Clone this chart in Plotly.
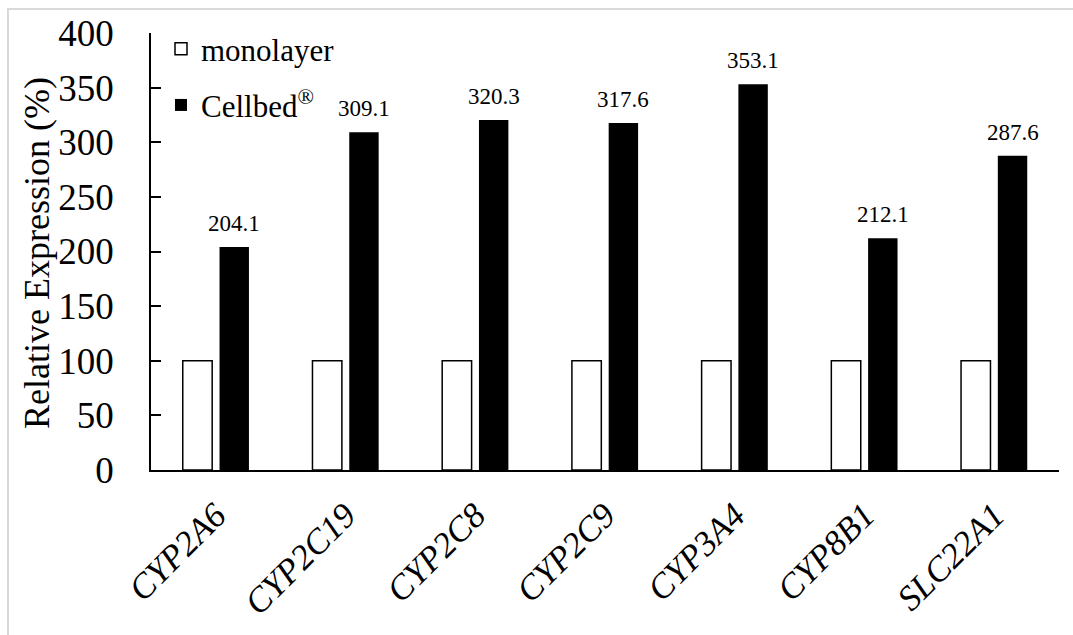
import plotly.graph_objects as go

categories = ["CYP2A6", "CYP2C19", "CYP2C8", "CYP2C9", "CYP3A4", "CYP8B1", "SLC22A1"]
monolayer = [100, 100, 100, 100, 100, 100, 100]
cellbed = [204.1, 309.1, 320.3, 317.6, 353.1, 212.1, 287.6]
y_ticks = [0, 50, 100, 150, 200, 250, 300, 350, 400]
y_title = "Relative Expression (%)"

FONT = "Liberation Serif"

fig = go.Figure()
fig.add_trace(go.Bar(
    x=categories, y=monolayer, name="monolayer", legendgroup="a",
    marker=dict(color="white", line=dict(color="black", width=1.5)),
))
fig.add_trace(go.Bar(
    x=categories, y=cellbed, name="Cellbed<sup>®</sup>", legendgroup="b",
    marker=dict(color="black", line=dict(color="black", width=0)),
))

for c, v in zip(categories, cellbed):
    fig.add_annotation(
        x=c, y=v, text=f"{v:.1f}", showarrow=False,
        xref="x", yref="y", xanchor="center", yanchor="bottom",
        xshift=18.4, yshift=9,
        font=dict(family=FONT, size=23, color="black"),
    )

W, H = 1073, 635
L, R, T, B = 151, 14, 33, 165
pw, ph = W - L - R, H - T - B

def px(xp):
    return (xp - L) / pw

def py(yp):
    return (H - B - yp) / ph

fig.add_annotation(
    x=px(37), y=py(253), xref="paper", yref="paper",
    xanchor="center", yanchor="middle", textangle=-90,
    text=y_title, showarrow=False,
    font=dict(family=FONT, size=36, color="black"),
)

fig.add_shape(type="rect", xref="paper", yref="paper",
              x0=px(8), x1=px(1085), y0=py(645), y1=py(9),
              line=dict(color="#d9d9d9", width=2), fillcolor="rgba(0,0,0,0)",
              layer="below")

fig.update_layout(
    width=W, height=H,
    margin=dict(l=L, r=R, t=T, b=B, pad=0),
    paper_bgcolor="white", plot_bgcolor="white",
    barmode="group", bargap=0.433, bargroupgap=0.2,
    font=dict(family=FONT, color="black"),
    showlegend=True,
    legend=dict(
        x=px(161), y=py(22), xanchor="left", yanchor="top",
        font=dict(family=FONT, size=31, color="black"),
        bgcolor="rgba(0,0,0,0)", tracegroupgap=13, traceorder="grouped",
    ),
    xaxis=dict(
        showline=True, linecolor="black", linewidth=1.5,
        tickmode="array", tickvals=categories,
        ticktext=[f"<i>{c}</i>" for c in categories],
        ticks="outside", ticklen=9, tickcolor="rgba(0,0,0,0)", tickangle=-45,
        tickfont=dict(family=FONT, size=35, color="black"),
        showgrid=False, zeroline=False,
    ),
    yaxis=dict(
        range=[0, 400], tickvals=y_ticks,
        showline=True, linecolor="black", linewidth=1.5,
        ticks="inside", ticklen=10, tickwidth=1.5, tickcolor="black",
        ticklabelstandoff=28,
        tickfont=dict(family=FONT, size=37, color="black"),
        showgrid=False, zeroline=False,
    ),
)

fig.write_html("out.html")
